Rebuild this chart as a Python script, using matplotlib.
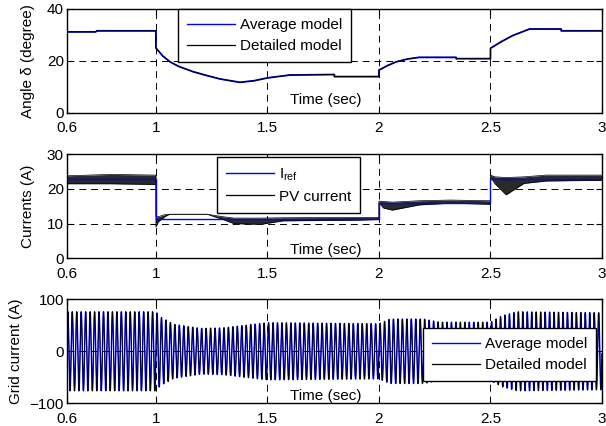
import numpy as np
import matplotlib
matplotlib.use('Agg')
import matplotlib.pyplot as plt
from matplotlib.lines import Line2D

plt.rcParams['font.family'] = ['Liberation Sans', 'DejaVu Sans']
plt.rcParams['font.size'] = 11
plt.rcParams['lines.scale_dashes'] = False

# ---- data ----
xticks = [0.6, 1, 1.5, 2, 2.5, 3]
xtick_labels = ['0.6', '1', '1.5', '2', '2.5', '3']

# panel 1: load angle (average / detailed model overlap)
t_angle = [0.6, 0.73, 0.735, 1.0, 1.0, 1.03, 1.063, 1.1, 1.166, 1.22, 1.287, 1.376,
           1.44, 1.5, 1.6, 1.8, 1.8, 2.0, 2.0, 2.04, 2.078, 2.13, 2.18, 2.346,
           2.346, 2.5, 2.5, 2.55, 2.6, 2.675, 2.817, 2.817, 3.0]
angle_avg = [31.2, 31.2, 31.6, 31.6, 25.0, 22.0, 19.7, 18.0, 15.9, 14.6, 13.1, 11.8,
             12.4, 13.5, 14.6, 14.8, 14.0, 14.0, 16.5, 18.3, 19.7, 20.8, 21.4, 21.4,
             20.9, 20.9, 24.9, 27.5, 29.8, 32.3, 32.3, 31.6, 31.6]
angle_det = angle_avg

# panel 2: reference current and PV current ripple band
t_iref = [0.6, 1.0, 1.0, 2.0, 2.0, 2.5, 2.5, 3.0]
iref = [22.8, 22.8, 11.3, 11.3, 16.0, 16.0, 22.8, 22.8]

t_pv = [0.6, 0.8, 1.0, 1.0, 1.01, 1.04, 1.06, 1.23, 1.3, 1.35, 1.47, 1.57, 1.9,
        2.0, 2.0, 2.02, 2.06, 2.18, 2.32, 2.5, 2.5, 2.52, 2.57, 2.65, 2.75, 3.0]
pv_hi = [23.8, 24.2, 24.0, 12.0, 12.0, 12.6, 12.7, 12.7, 12.0, 11.6, 11.6, 11.7, 11.8,
         11.8, 16.5, 16.4, 16.2, 16.6, 16.8, 16.6, 24.0, 23.5, 23.3, 23.5, 24.0, 24.0]
pv_lo = [21.5, 21.5, 21.3, 9.0, 10.5, 12.0, 12.7, 12.7, 11.2, 10.0, 9.8, 10.8, 11.0,
         11.2, 16.0, 14.5, 13.9, 15.4, 15.9, 15.6, 23.5, 21.5, 18.3, 21.6, 22.3, 22.5]

# panel 3: grid current envelope, 50 Hz carrier (20 cycles counted in 0.4 s)
f_grid = 50
t_env = [0.6, 1.0, 1.02, 1.08, 1.2, 1.3, 1.4, 1.5, 2.0, 2.05, 2.2, 2.27, 2.5, 2.55, 2.62, 3.0]
amp_env = [76, 76, 66, 52, 44, 45, 50, 55, 53, 62, 62, 56, 56, 68, 76, 74]

fig = plt.figure(figsize=(6.06, 4.26), dpi=100)
W, H = 606, 426


def make_axes(top_px, bottom_px):
    return fig.add_axes([66.7 / W, 1 - bottom_px / H, 535.3 / W, (bottom_px - top_px) / H])


def style(ax, yticks, ylabel, ylab_x, time_y):
    ax.set_xlim(0.6, 3)
    ax.set_xticks(xticks)
    ax.set_xticklabels(xtick_labels)
    ax.set_yticks(yticks)
    ax.set_ylim(yticks[0], yticks[-1])
    ax.tick_params(direction='in', top=True, right=True, length=4, width=0.8)
    ax.tick_params(axis='x', pad=6)
    ax.tick_params(axis='y', pad=2)
    ax.grid(True, color='k', linestyle=(0, (5, 3.5)), linewidth=0.7)
    for s in ax.spines.values():
        s.set_linewidth(1.0)
    ax.text(ylab_x, 0.5, ylabel, transform=ax.transAxes, rotation=90,
            ha='center', va='center')
    ax.text(0.484, time_y, 'Time (sec)', transform=ax.transAxes,
            ha='center', va='center', zorder=5)


def legend(ax, labels, left_px, top_px, ax_top, ax_bottom):
    handles = [Line2D([], [], color='#0000ff', lw=1.0), Line2D([], [], color='k', lw=0.9)]
    x = (left_px - 66.7) / 535.3
    y = (ax_bottom - top_px) / (ax_bottom - ax_top)
    leg = ax.legend(handles, labels, loc='upper left', bbox_to_anchor=(x, y),
                    borderaxespad=0, fancybox=False, framealpha=1,
                    edgecolor='k', handlelength=3.1, handletextpad=0.35,
                    labelspacing=0.45, borderpad=0.6)
    leg.get_frame().set_linewidth(1.0)
    leg.set_zorder(10)


# ---- panel 1 ----
ax1 = make_axes(9, 113)
ax1.plot(t_angle, angle_avg, color='#0000ff', lw=1.3)
ax1.plot(t_angle, angle_det, color='k', lw=0.7)
style(ax1, [0, 20, 40], 'Angle δ (degree)', -0.072, 0.125)
legend(ax1, ['Average model', 'Detailed model'], 178, 9, 9, 113)

# ---- panel 2 ----
ax2 = make_axes(154.3, 258.3)
ax2.plot(t_iref, iref, color='#0000ff', lw=1.0, zorder=3)
ax2.fill_between(t_pv, pv_lo, pv_hi, color='#2a2a2a', lw=0, zorder=2)
ax2.plot(t_pv, pv_hi, color='k', lw=0.5, zorder=2)
ax2.plot(t_pv, pv_lo, color='k', lw=0.5, zorder=2)
style(ax2, [0, 10, 20, 30], 'Currents (A)', -0.072, 0.08)
legend(ax2, ['I$_{\\mathregular{ref}}$', 'PV current'], 217, 157, 154.3, 258.3)

# ---- panel 3 ----
ax3 = make_axes(299.3, 403.3)
t = np.arange(0.6, 3.0, 0.0002)
env = np.interp(t, t_env, amp_env)
i_grid = env * np.sin(2 * np.pi * f_grid * t)
ax3.plot(t, i_grid, color='#0000ff', lw=1.0)
ax3.plot(t, i_grid, color='k', lw=0.5)
style(ax3, [-100, 0, 100], 'Grid current (A)', -0.095, 0.07)
legend(ax3, ['Average model', 'Detailed model'], 423, 328, 299.3, 403.3)

fig.savefig('out.png', dpi=100)
